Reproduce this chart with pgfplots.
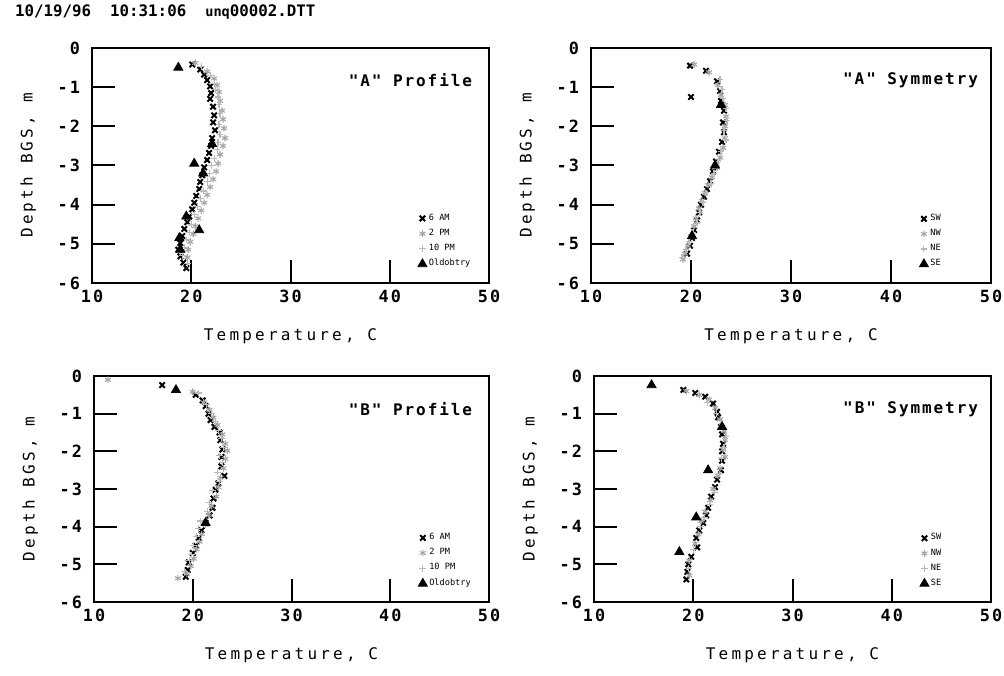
\documentclass[border=0pt]{standalone}
\usepackage{fontspec}
\usepackage{pgfplots}
\pgfplotsset{compat=1.18}
\setmainfont{DejaVu Sans Mono}
\newfontfamily\tickfont[LetterSpace=12.0]{DejaVu Sans Mono Bold}
\newfontfamily\labfont[LetterSpace=20.0]{DejaVu Sans Mono}
\newfontfamily\titfont[LetterSpace=12.0]{DejaVu Sans Mono Bold}
\newfontfamily\hdrfont{DejaVu Sans Mono Bold}
\newfontfamily\lgdfont{DejaVu Sans Mono}
\pgfplotsset{
  panel/.style={
    scale only axis,
    xmin=10, xmax=50, ymin=-6, ymax=0,
    xtick={10,20,30,40,50}, xticklabels={10,20,30,40,50},
    ytick={-6,-5,-4,-3,-2,-1,0}, yticklabels={-6,-5,-4,-3,-2,-1,0},
    xtick pos=bottom, ytick pos=left,
    tick align=inside, major tick length=11.5pt,
    tick style={line width=1pt, black},
    axis line style={line width=1pt},
    tick label style={font=\fontsize{8.4}{9}\tickfont},
    yticklabel style={xshift=-2.5pt},
    label style={font=\fontsize{8}{9}\labfont},
    xlabel={Temperature, C},
    ylabel={Depth BGS, m},
    xlabel style={yshift=-6pt},
    ylabel style={yshift=4pt},
    legend style={draw=none, fill=none, font=\fontsize{4.3}{4.8}\lgdfont, inner sep=0pt, row sep=0.9pt,
      nodes={inner sep=1pt}},
    legend cell align=left,
  },
  s1/.style={only marks, mark=x, mark size=1.9pt, line width=1pt, black},
  s2/.style={only marks, mark=asterisk, mark size=1.7pt, line width=0.55pt, gray!70},
  s3/.style={only marks, mark=+, mark size=1.7pt, line width=0.55pt, gray!55},
  s4/.style={only marks, mark=triangle*, mark size=2.6pt, black},
}
\begin{document}
\begin{tikzpicture}
\path[use as bounding box] (0,0) rectangle (502pt,337.5pt);
\node[anchor=west, font=\fontsize{7.9}{9}\hdrfont] at (4pt,331.5pt) {10/19/96\ \ 10:31:06\ \ {\fontsize{6.8}{8}\selectfont unq}00002.DTT};

% Panel A Profile
\begin{axis}[panel, at={(46pt,196pt)}, anchor=south west, width=198.5pt, height=117.5pt,
  legend style={at={(0.82,0.05)}, anchor=south west}]
\addplot[s1] coordinates {(20.1,-0.42) (20.9,-0.55) (21.3,-0.68) (21.6,-0.82) (21.9,-0.98) (22.0,-1.15) (21.9,-1.3) (22.2,-1.5) (22.3,-1.72) (22.2,-1.9) (22.4,-2.1) (22.1,-2.3) (22.0,-2.5) (21.8,-2.68) (21.6,-2.86) (21.3,-3.05) (21.1,-3.25) (20.9,-3.42) (20.8,-3.6) (20.5,-3.78) (20.3,-3.95) (20.1,-4.12) (19.8,-4.3) (19.6,-4.45) (19.3,-4.62) (19.1,-4.8) (18.9,-4.98) (18.7,-5.15) (18.9,-5.32) (19.2,-5.48) (19.5,-5.62)};
\addplot[s2] coordinates {(20.4,-0.38) (21.6,-0.6) (22.3,-0.78) (22.6,-0.95) (22.8,-1.12) (22.9,-1.35) (23.1,-1.6) (23.2,-1.82) (23.3,-2.05) (23.4,-2.3) (23.2,-2.5) (22.9,-2.72) (22.7,-2.95) (22.5,-3.15) (22.2,-3.35) (21.9,-3.55) (21.6,-3.75) (21.3,-3.95) (21.0,-4.15) (20.7,-4.35) (20.4,-4.55) (20.2,-4.75) (19.9,-4.95) (19.7,-5.15) (19.6,-5.35)};
\addplot[s3] coordinates {(21.0,-0.48) (21.9,-0.7) (22.3,-0.9) (22.4,-1.05) (22.7,-1.25) (22.8,-1.45) (22.9,-1.68) (22.8,-1.95) (22.9,-2.2) (22.7,-2.42) (22.6,-2.6) (22.3,-2.82) (22.0,-3.0) (21.8,-3.2) (21.6,-3.4) (21.2,-3.65) (20.9,-3.85) (20.6,-4.05) (20.3,-4.25) (20.0,-4.5) (19.8,-4.7) (19.5,-4.9) (19.3,-5.1) (19.1,-5.3) (19.6,-5.5)};
\addplot[s4] coordinates {(18.7,-0.5) (22.1,-2.45) (20.3,-2.95) (21.2,-3.2) (19.5,-4.3) (20.8,-4.65) (18.8,-4.85) (18.9,-5.15)};
\legend{6 AM, 2 PM, 10 PM, Oldobtry}
\node[anchor=east, font=\fontsize{8}{9}\titfont] at (rel axis cs:0.975,0.865) {"A" Profile};
\end{axis}

% Panel A Symmetry
\begin{axis}[panel, at={(295.5pt,196pt)}, anchor=south west, width=200pt, height=117.5pt,
  legend style={at={(0.82,0.05)}, anchor=south west}]
\addplot[s1] coordinates {(19.9,-0.45) (21.5,-0.58) (22.6,-0.85) (22.9,-1.1) (23.0,-1.35) (23.3,-1.6) (23.2,-1.9) (23.3,-2.15) (23.1,-2.4) (22.8,-2.65) (22.5,-2.9) (22.2,-3.15) (21.9,-3.4) (21.6,-3.6) (21.3,-3.8) (21.0,-4.0) (20.8,-4.2) (20.6,-4.4) (20.3,-4.65) (20.1,-4.85) (19.9,-5.05) (19.6,-5.25) (20.0,-1.25)};
\addplot[s2] coordinates {(20.3,-0.42) (21.8,-0.62) (22.7,-0.95) (23.0,-1.2) (23.4,-1.45) (23.5,-1.75) (23.4,-2.0) (23.4,-2.3) (23.2,-2.55) (22.9,-2.8) (22.6,-3.05) (22.1,-3.3) (21.7,-3.5) (21.4,-3.7) (21.1,-3.9) (20.8,-4.1) (20.5,-4.35) (20.3,-4.55) (20.0,-4.8) (19.7,-5.05) (19.4,-5.25) (19.2,-5.4)};
\addplot[s3] coordinates {(22.9,-0.8) (23.1,-1.05) (23.2,-1.3) (23.5,-1.55) (23.6,-1.85) (23.3,-2.1) (23.5,-2.35) (23.0,-2.65) (22.7,-2.9) (22.3,-3.2) (22.0,-3.45) (21.5,-3.7) (21.2,-3.95) (20.9,-4.2) (20.6,-4.45) (20.2,-4.7) (19.8,-4.95) (19.5,-5.15) (19.1,-5.35)};
\addplot[s4] coordinates {(23.0,-1.45) (22.4,-3.0) (20.1,-4.8)};
\legend{SW, NW, NE, SE}
\node[anchor=east, font=\fontsize{8}{9}\titfont] at (rel axis cs:0.985,0.865) {"A" Symmetry};
\end{axis}

% Panel B Profile
\begin{axis}[panel, at={(47pt,36.5pt)}, anchor=south west, width=197.5pt, height=113pt,
  legend style={at={(0.82,0.05)}, anchor=south west}]
\addplot[s1] coordinates {(16.9,-0.24) (20.3,-0.5) (21.0,-0.65) (21.3,-0.8) (21.6,-1.0) (21.8,-1.17) (22.2,-1.35) (22.7,-1.5) (22.8,-1.7) (23.0,-1.95) (22.9,-2.15) (22.9,-2.4) (23.2,-2.65) (22.6,-2.85) (22.3,-3.02) (22.1,-3.25) (22.0,-3.5) (21.7,-3.7) (21.3,-3.9) (20.9,-4.1) (20.6,-4.3) (20.3,-4.5) (20.0,-4.7) (19.6,-4.95) (19.5,-5.15) (19.3,-5.33)};
\addplot[s2] coordinates {(11.4,-0.1) (20.0,-0.42) (21.1,-0.7) (21.7,-0.9) (22.1,-1.1) (22.5,-1.3) (23.0,-1.55) (23.3,-1.8) (23.5,-1.98) (23.3,-2.2) (23.1,-2.45) (22.8,-2.7) (22.6,-2.95) (22.4,-3.2) (21.9,-3.45) (21.6,-3.7) (21.3,-3.95) (20.9,-4.2) (20.7,-4.4) (20.4,-4.6) (20.1,-4.85) (19.8,-5.05) (19.4,-5.25) (18.5,-5.37)};
\addplot[s3] coordinates {(20.6,-0.45) (21.4,-0.75) (21.9,-1.0) (22.3,-1.2) (22.6,-1.45) (22.9,-1.65) (23.1,-1.9) (22.7,-2.1) (23.0,-2.3) (22.5,-2.55) (22.7,-2.8) (22.0,-3.05) (21.7,-3.35) (21.5,-3.6) (20.8,-3.85) (20.6,-4.05) (20.4,-4.25) (20.1,-4.5) (19.9,-4.75) (19.7,-4.9) (19.2,-5.2)};
\addplot[s4] coordinates {(18.3,-0.37) (21.3,-3.9)};
\legend{6 AM, 2 PM, 10 PM, Oldobtry}
\node[anchor=east, font=\fontsize{8}{9}\titfont] at (rel axis cs:0.975,0.855) {"B" Profile};
\end{axis}

% Panel B Symmetry
\begin{axis}[panel, at={(297pt,36.5pt)}, anchor=south west, width=198.5pt, height=113pt,
  legend style={at={(0.82,0.05)}, anchor=south west}]
\addplot[s1] coordinates {(19.0,-0.37) (20.2,-0.45) (21.2,-0.55) (22.0,-0.73) (22.4,-0.95) (22.5,-1.1) (22.8,-1.35) (22.9,-1.55) (23.0,-1.8) (22.9,-2.0) (22.9,-2.25) (22.8,-2.5) (22.4,-2.75) (22.2,-2.95) (21.8,-3.2) (21.5,-3.5) (21.3,-3.7) (21.0,-3.9) (20.6,-4.1) (20.3,-4.3) (20.4,-4.55) (19.8,-4.8) (19.5,-5.0) (19.4,-5.2) (19.3,-5.4)};
\addplot[s2] coordinates {(19.3,-0.4) (20.6,-0.5) (21.6,-0.62) (22.2,-0.85) (22.7,-1.15) (23.1,-1.45) (23.2,-1.7) (23.0,-1.95) (23.2,-2.15) (22.7,-2.45) (22.5,-2.65) (22.0,-3.0) (21.7,-3.3) (21.2,-3.6) (20.8,-3.85) (20.5,-4.2) (20.2,-4.45) (19.6,-4.9) (19.6,-5.3)};
\addplot[s3] coordinates {(21.4,-0.7) (22.3,-1.0) (22.9,-1.3) (23.3,-1.6) (23.1,-1.9) (22.8,-2.2) (22.6,-2.6) (22.1,-3.1) (21.6,-3.4) (21.1,-3.75) (20.7,-4.0) (20.0,-4.6) (19.5,-5.1)};
\addplot[s4] coordinates {(15.8,-0.24) (22.9,-1.35) (21.5,-2.5) (20.3,-3.75) (18.6,-4.67)};
\legend{SW, NW, NE, SE}
\node[anchor=east, font=\fontsize{8}{9}\titfont] at (rel axis cs:0.985,0.855) {"B" Symmetry};
\end{axis}
\end{tikzpicture}
\end{document}
